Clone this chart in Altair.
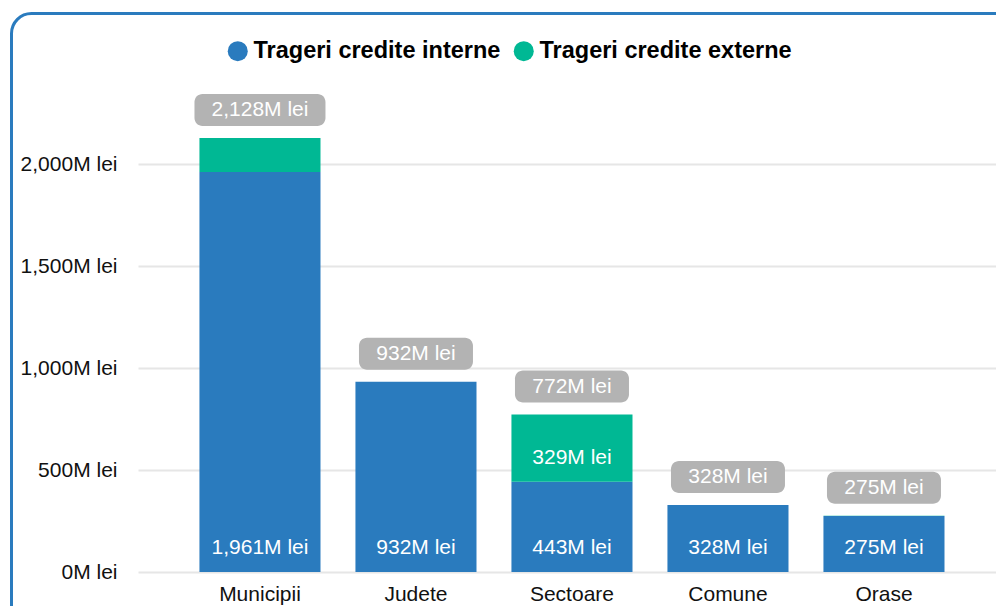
import altair as alt
import pandas as pd

categories = ["Municipii", "Judete", "Sectoare", "Comune", "Orase"]
internal = [1961, 932, 443, 328, 275]
external = [167, 0, 329, 0, 0.4]
series = ["Trageri credite interne", "Trageri credite externe"]
colors = ["#2a7bbe", "#00b894"]
y_ticks = [0, 500, 1000, 1500, 2000]

rows = []
for i, c in enumerate(categories):
    rows.append({"cat": c, "series": series[0], "ord": 0, "value": internal[i]})
    rows.append({"cat": c, "series": series[1], "ord": 1, "value": external[i]})
df = pd.DataFrame(rows)

FONT = "Liberation Sans"
FS = 21
BLUE = colors[0]

x = alt.X(
    "cat:N", sort=categories, title=None,
    scale=alt.Scale(paddingInner=0.224, paddingOuter=0.362, align=0.544),
    axis=alt.Axis(domain=False, ticks=False, labelAngle=0, labelFontSize=FS,
                  labelPadding=11, labelColor="#111", labelFont=FONT),
)
yscale = alt.Scale(domain=[0, 2500], nice=False)

base = alt.Chart(df)
stacked = base.transform_stack(
    stack="value", groupby=["cat"], as_=["v0", "v1"],
    sort=[alt.SortField("ord", order="ascending")],
)

bars = stacked.mark_bar().encode(
    x=x,
    y=alt.Y("v0:Q", scale=yscale, title=None,
            axis=alt.Axis(values=y_ticks,
                          labelExpr="format(datum.value, ',') + 'M lei'",
                          domain=False, ticks=False, gridColor="#e6e6e6",
                          gridWidth=2, labelFontSize=FS, labelPadding=21,
                          labelFont=FONT, labelColor="#111")),
    y2="v1:Q",
    color=alt.Color("series:N", scale=alt.Scale(domain=series, range=colors),
                    legend=alt.Legend(orient="none", legendX=88, legendY=-23,
                                      direction="horizontal", title=None,
                                      symbolType="circle", symbolSize=400,
                                      symbolStrokeWidth=0, labelFontSize=23.5,
                                      labelFontWeight="bold", labelFont=FONT,
                                      labelColor="#000", columnPadding=11,
                                      labelOffset=4, symbolOpacity=1,
                                      labelLimit=0)),
)

inner = stacked.transform_filter("datum.value >= 200").transform_calculate(
    lbl="format(datum.value, ',.0f') + 'M lei'"
).mark_text(dy=-24, color="white", fontSize=FS, font=FONT, baseline="middle").encode(
    x=x, y=alt.Y("v0:Q", scale=yscale), text="lbl:N"
)

totals = base.transform_aggregate(total="sum(value)", groupby=["cat"]).transform_calculate(
    lbl="format(datum.total, ',.0f') + 'M lei'",
    boxw="length(format(datum.total, ',.0f') + 'M lei') * 8.5 + 46",
)

boxes = totals.mark_bar(color="#b3b3b3", cornerRadius=8, yOffset=-44, y2Offset=-12).encode(
    x=x, y=alt.Y("total:Q", scale=yscale), y2="total:Q",
    size=alt.Size("boxw:Q", scale=None, legend=None),
)

total_text = totals.mark_text(color="white", fontSize=FS, dy=-28, font=FONT, baseline="middle").encode(
    x=x, y=alt.Y("total:Q", scale=yscale), text="lbl:N"
)

card = alt.Chart(alt.Data(values=[{"a": 1}])).mark_rect(
    fill="#ffffff", fillOpacity=0, stroke=BLUE, strokeWidth=3, cornerRadius=20, clip=False
).encode(
    x=alt.value(-126.5), x2=alt.value(900), y=alt.value(-48.5), y2=alt.value(600)
)

chart = alt.layer(card, bars, inner, boxes, total_text).properties(
    width=858, height=510,
    autosize=alt.AutoSizeParams(type="none"),
    padding={"left": 130, "top": 54, "right": 0, "bottom": 34},
    background="white",
).configure_view(strokeWidth=0)

chart.save("out.html", embed_options={"renderer": "svg", "actions": False})
